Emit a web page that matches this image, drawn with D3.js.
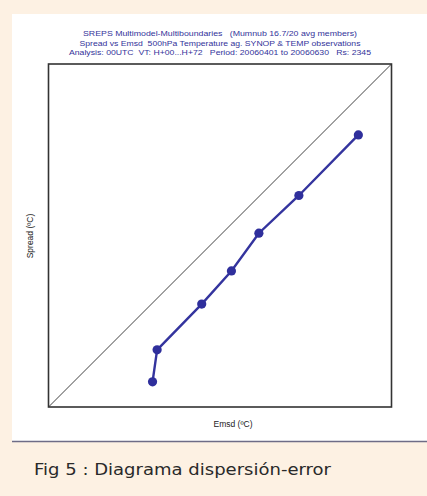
<!DOCTYPE html>
<html>
<head>
<meta charset="utf-8">
<script src="https://cdn.jsdelivr.net/npm/d3@7"></script>
<style>
  html, body { margin: 0; padding: 0; background: #fdf1e3; }
  svg { display: block; }
  text { white-space: pre; }
</style>
</head>
<body>
<svg id="chart" width="427" height="496"></svg>
<script>
// Ensemble spread vs. error standard deviation (°C), one point per class
const emsd   = [0.91, 0.95, 1.34, 1.60, 1.84, 2.19, 2.71];
const spread = [0.22, 0.50, 0.90, 1.19, 1.52, 1.85, 2.38];
const axisDomain = [0, 3];

const titleLines = [
  "SREPS Multimodel-Multiboundaries   (Mumnub 16.7/20 avg members)",
  "Spread vs Emsd  500hPa Temperature ag. SYNOP & TEMP observations",
  "Analysis: 00UTC  VT: H+00...H+72   Period: 20060401 to 20060630   Rs: 2345"
];
const titleWidths = [274, 281, 302];
const xLabel = "Emsd (ºC)";
const yLabel = "Spread (ºC)";
const caption = "Fig 5 : Diagrama dispersión-error";

const svg = d3.select("#chart");

// white figure panel on the cream page
svg.append("rect").attr("x", 12).attr("y", 14).attr("width", 415).attr("height", 427)
  .attr("fill", "#ffffff");
svg.append("line").attr("x1", 12).attr("x2", 427).attr("y1", 441.5).attr("y2", 441.5)
  .attr("stroke", "#6e6c86").attr("stroke-width", 1.5);

// plot area
const plot = { left: 48.5, top: 64, size: 343 };
const x = d3.scaleLinear().domain(axisDomain).range([plot.left, plot.left + plot.size]);
const y = d3.scaleLinear().domain(axisDomain).range([plot.top + plot.size, plot.top]);

// titles
svg.append("g").selectAll("text").data(titleLines).join("text")
  .attr("x", 220).attr("y", (d, i) => 36 + i * 9.6)
  .attr("text-anchor", "middle")
  .attr("font-family", "Liberation Sans, Arial, sans-serif")
  .attr("font-size", 6.8)
  .attr("fill", "#33339a")
  .attr("textLength", (d, i) => titleWidths[i])
  .attr("lengthAdjust", "spacingAndGlyphs")
  .text(d => d);

// diagonal reference (spread = error)
svg.append("line")
  .attr("x1", x(axisDomain[0])).attr("y1", y(axisDomain[0]))
  .attr("x2", x(axisDomain[1])).attr("y2", y(axisDomain[1]))
  .attr("stroke", "#111").attr("stroke-width", 0.8);

// frame
svg.append("rect")
  .attr("x", x(axisDomain[0])).attr("y", y(axisDomain[1]))
  .attr("width", x(axisDomain[1]) - x(axisDomain[0]))
  .attr("height", y(axisDomain[0]) - y(axisDomain[1]))
  .attr("fill", "none").attr("stroke", "#333").attr("stroke-width", 1.6);

// series
const pts = emsd.map((v, i) => [v, spread[i]]);
svg.append("path").datum(pts)
  .attr("fill", "none").attr("stroke", "#34349e").attr("stroke-width", 2.4)
  .attr("d", d3.line().x(d => x(d[0])).y(d => y(d[1])));
svg.append("g").selectAll("circle").data(pts).join("circle")
  .attr("cx", d => x(d[0])).attr("cy", d => y(d[1])).attr("r", 4.6)
  .attr("fill", "#2f2f9c");

// axis labels
svg.append("text")
  .attr("x", 233).attr("y", 427)
  .attr("text-anchor", "middle")
  .attr("font-family", "Liberation Sans, Arial, sans-serif")
  .attr("font-size", 8.5).attr("fill", "#222")
  .text(xLabel);
svg.append("text")
  .attr("transform", "translate(33,236) rotate(-90)")
  .attr("text-anchor", "middle")
  .attr("font-family", "Liberation Sans, Arial, sans-serif")
  .attr("font-size", 8.5).attr("fill", "#222")
  .text(yLabel);

// caption
svg.append("text")
  .attr("x", 34).attr("y", 475)
  .attr("font-family", "DejaVu Sans, sans-serif")
  .attr("font-size", 15).attr("fill", "#2a2a2a")
  .attr("textLength", 297).attr("lengthAdjust", "spacingAndGlyphs")
  .text(caption);
</script>
</body>
</html>
